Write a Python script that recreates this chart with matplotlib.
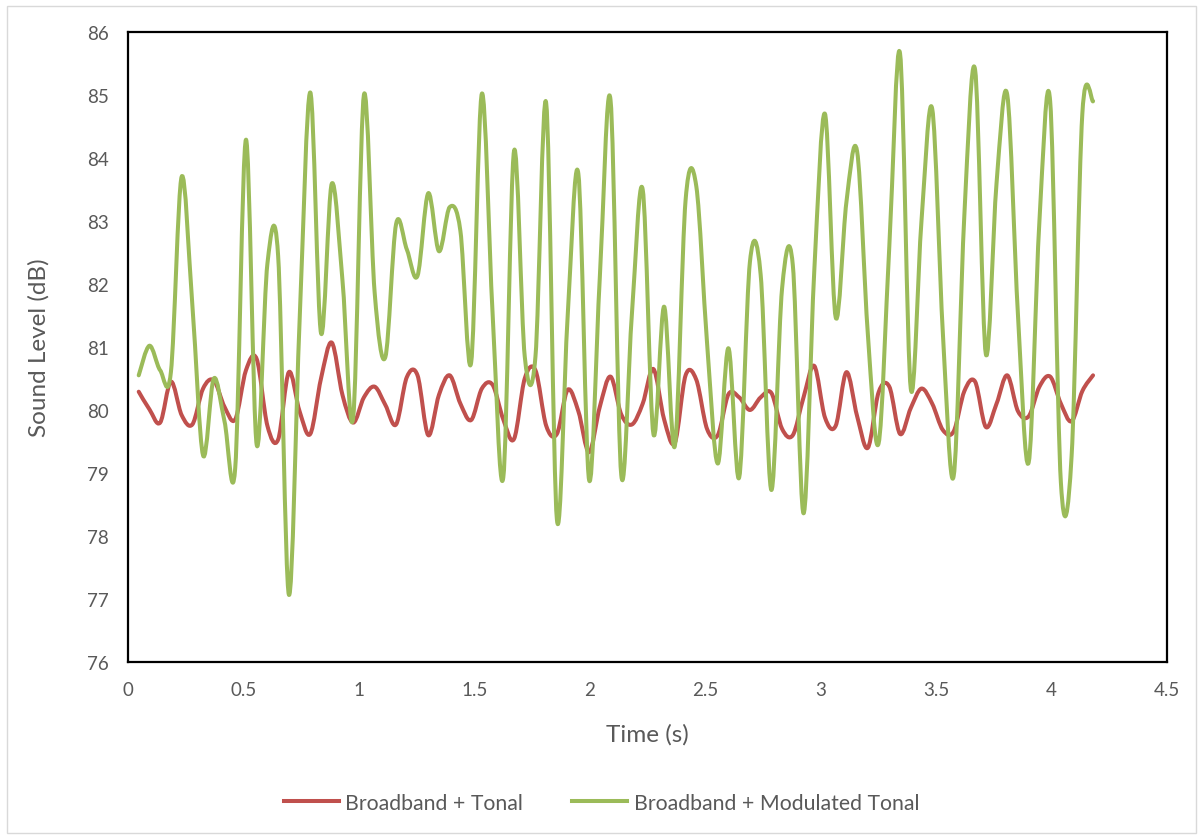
import numpy as np
import matplotlib
matplotlib.use("Agg")
import matplotlib.pyplot as plt
from matplotlib.path import Path
from matplotlib.patches import PathPatch, Rectangle
from matplotlib.lines import Line2D

# Frame times (2048-sample hops at 44.1 kHz)
frame_s = 2048 / 44100
time_s = frame_s * np.arange(1, 91)

tonal_db = [
    80.29, 80.01, 79.80, 80.45, 79.92, 79.77, 80.34, 80.47, 80.05, 79.85,
    80.63, 80.81, 79.75, 79.53, 80.60, 79.98, 79.62, 80.50, 81.07, 80.24,
    79.80, 80.20, 80.37, 80.08, 79.77, 80.52, 80.55, 79.60, 80.24, 80.55,
    80.10, 79.84, 80.34, 80.40, 79.85, 79.54, 80.50, 80.63, 79.75, 79.62,
    80.32, 79.98, 79.33, 80.05, 80.53, 79.93, 79.77, 80.10, 80.65, 79.85,
    79.48, 80.55, 80.48, 79.70, 79.60, 80.25, 80.20, 80.00, 80.20, 80.27,
    79.70, 79.60, 80.20, 80.70, 79.88, 79.75, 80.60, 79.90, 79.40, 80.28,
    80.37, 79.62, 80.03, 80.34, 80.10, 79.68, 79.66, 80.30, 80.45, 79.73,
    80.10, 80.55, 79.98, 79.90, 80.37, 80.53, 80.10, 79.82, 80.30, 80.55,
]

modulated_db = [
    80.55, 81.02, 80.63, 80.60, 83.70, 81.67, 79.28, 80.50, 79.82, 79.08,
    84.29, 79.45, 82.32, 82.45, 77.07, 81.40, 85.04, 81.22, 83.59, 82.06,
    79.88, 85.00, 81.87, 80.84, 82.95, 82.55, 82.13, 83.44, 82.52, 83.22,
    82.84, 80.75, 85.02, 81.54, 78.93, 84.11, 80.85, 80.85, 84.87, 78.26,
    81.48, 83.75, 78.89, 82.10, 84.92, 78.97, 81.54, 83.50, 79.62, 81.64,
    79.43, 83.33, 83.55, 81.07, 79.15, 80.98, 78.93, 82.35, 82.15, 78.73,
    81.93, 82.30, 78.36, 82.20, 84.70, 81.47, 83.30, 84.10, 81.20, 79.47,
    82.60, 85.66, 80.34, 83.00, 84.78, 81.20, 78.95, 83.10, 85.40, 80.89,
    83.60, 85.00, 81.50, 79.17, 83.00, 84.90, 78.85, 79.27, 84.70, 84.90,
]

series_names = ["Broadband + Tonal", "Broadband + Modulated Tonal"]
series_colors = ["#C0504D", "#9BBB59"]
x_ticks = [0, 0.5, 1, 1.5, 2, 2.5, 3, 3.5, 4, 4.5]
y_ticks = [76, 77, 78, 79, 80, 81, 82, 83, 84, 85, 86]


def smooth_path(x, y):
    # cubic bezier through every point, like a spreadsheet "smoothed line"
    pts = np.column_stack([x, y])
    n = len(pts)
    verts = [pts[0]]
    codes = [Path.MOVETO]
    for i in range(n - 1):
        p0 = pts[max(i - 1, 0)]
        p1 = pts[i]
        p2 = pts[i + 1]
        p3 = pts[min(i + 2, n - 1)]
        verts += [p1 + (p2 - p0) / 6, p2 - (p3 - p1) / 6, p2]
        codes += [Path.CURVE4] * 3
    return Path(verts, codes)


plt.rcParams["font.family"] = ["Lato", "DejaVu Sans"]
grey = "#595959"

fig = plt.figure(figsize=(12.03, 8.37), dpi=100)
fig.patches.append(Rectangle((0.006, 0.004), 0.988, 0.988, transform=fig.transFigure,
                             fill=False, edgecolor="#D9D9D9", lw=1))
ax = fig.add_axes([0.1064, 0.2079, 0.8637, 0.7527])

for vals, col in zip([tonal_db, modulated_db], series_colors):
    ax.add_patch(PathPatch(smooth_path(time_s, vals), fill=False, edgecolor=col,
                           lw=2.9, capstyle="round", joinstyle="round"))

ax.set_xlim(0, 4.5)
ax.set_ylim(76, 86)
ax.set_xticks(x_ticks)
ax.set_xticklabels([f"{t:g}" for t in x_ticks])
ax.set_yticks(y_ticks)
ax.tick_params(length=0, labelsize=13.5, labelcolor=grey, pad=14)
for sp in ax.spines.values():
    sp.set_color("black")
    sp.set_linewidth(1.6)

ax.set_xlabel("Time (s)", fontsize=17.5, color=grey, labelpad=18)
ax.set_ylabel("Sound Level (dB)", fontsize=17.5, color=grey, labelpad=27)

handles = [Line2D([], [], color=c, lw=2.9) for c in series_colors]
fig.legend(handles, series_names, loc="center", bbox_to_anchor=(0.5, 0.04),
           ncol=2, frameon=False, fontsize=15.3, labelcolor=grey,
           handlelength=2.6, handletextpad=0.3, columnspacing=2.3)

fig.savefig("out.png", dpi=100)
